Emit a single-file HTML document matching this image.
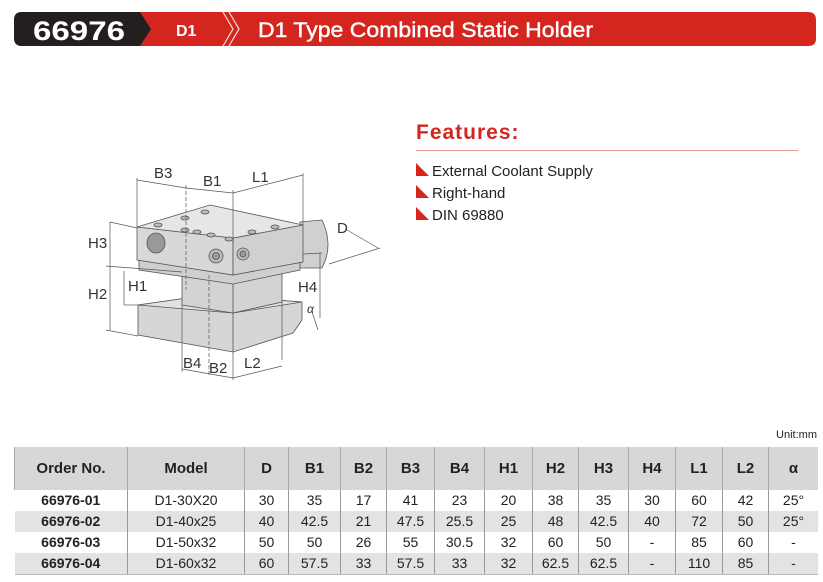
<!DOCTYPE html>
<html><head><meta charset="utf-8"><style>
body{margin:0;width:823px;height:582px;background:#fff;font-family:"Liberation Sans",Arial,sans-serif;position:relative;overflow:hidden}
.abs{position:absolute}
table{border-collapse:collapse;position:absolute;left:14px;top:447px;width:804px;font-size:14px;color:#222}
td{text-align:center;padding:0;height:21px;border-left:1px solid #999;line-height:21px}
td:first-child{border-left:none;font-weight:bold}
tr.h td{height:43px;background:#d7d7d7;font-weight:bold;font-size:15px;border-left:1px solid #aaa}
tr.g td{background:#e3e3e3}
tr.last td{border-bottom:1px solid #bbb}
.tri{display:inline-block;width:0;height:0;border-right:13px solid transparent;border-bottom:13px solid #d4261f;margin-right:3px}
</style></head><body>
<svg class="abs" style="left:0;top:0" width="823" height="60">
<path d="M22,12 H808 Q816,12 816,20 V39 Q816,46 808,46 H22 Q14,46 14,38 V20 Q14,12 22,12Z" fill="#d4261f"/>
<path d="M22,12 H140 L151,29 L140,46 H22 Q14,46 14,38 V20 Q14,12 22,12Z" fill="#231f1e"/>
<path d="M223,12 L233,29 L223,46 M229,12 L239,29 L229,46" stroke="#fff" stroke-width="1.2" fill="none" opacity=".85"/>
<text x="33" y="40" font-size="27" font-weight="bold" fill="#fff" textLength="92" lengthAdjust="spacingAndGlyphs">66976</text>
<text x="176" y="36" font-size="16" font-weight="bold" fill="#fff">D1</text>
<text x="258" y="37" font-size="21" fill="#fff" stroke="#fff" stroke-width="0.4" textLength="335" lengthAdjust="spacingAndGlyphs">D1 Type Combined Static Holder</text>
</svg>
<div class="abs" style="left:416px;top:121px;color:#d4261f;font-size:21px;font-weight:bold;letter-spacing:1px">Features:</div>
<div class="abs" style="left:416px;top:150px;width:382px;height:1px;background:#e59a96"></div>
<div class="abs" style="left:416px;top:161px;font-size:15px;color:#222;line-height:22px">
<div><span class="tri"></span>External Coolant Supply</div>
<div><span class="tri"></span>Right-hand</div>
<div><span class="tri"></span>DIN 69880</div>
</div>
<svg class="abs" style="left:0;top:0" width="420" height="400" font-family="Liberation Sans" font-size="15" fill="#333">
<g stroke="#555" stroke-width="0.8">
<path d="M300,222 L322,220 Q334,245 322,268 L300,268Z" fill="#d0d0d0"/>
<polygon points="138,305 208,295 302,302 302,320 293,333 233,352 138,335" fill="#d6d6d6"/>
<polygon points="138,305 208,295 302,302 233,313" fill="#e2e2e2"/>
<line x1="233" y1="313" x2="233" y2="352"/>
<polygon points="182,275 282,268 282,302 233,313 182,305" fill="#d3d3d3"/>
<line x1="233" y1="282" x2="233" y2="313"/>
<polygon points="139,260 233,275 300,262 300,270 233,284 139,270" fill="#cfcfcf"/>
<polygon points="137,227 233,238 233,275 137,260" fill="#d8d8d8"/>
<polygon points="233,238 303,225 303,262 233,275" fill="#d0d0d0"/>
<polygon points="137,227 210,205 303,225 233,238" fill="#e6e6e6"/>
<ellipse cx="156" cy="243" rx="9" ry="10" fill="#999"/>
<circle cx="216" cy="256" r="7" fill="#bbb"/><circle cx="216" cy="256" r="3.5" fill="#999"/>
<circle cx="243" cy="254" r="6" fill="#bbb"/><circle cx="243" cy="254" r="3" fill="#999"/>
<g fill="#bbb"><ellipse cx="205" cy="212" rx="4" ry="2"/><ellipse cx="185" cy="218" rx="4" ry="2"/><ellipse cx="158" cy="225" rx="4" ry="2"/><ellipse cx="185" cy="230" rx="4" ry="2"/><ellipse cx="197" cy="232" rx="4" ry="2"/><ellipse cx="211" cy="235" rx="4" ry="2"/><ellipse cx="229" cy="239" rx="4" ry="2"/><ellipse cx="252" cy="232" rx="4" ry="2"/><ellipse cx="275" cy="227" rx="4" ry="2"/></g>
</g>
<g stroke="#555" stroke-width="0.7" fill="none">
<line x1="137" y1="227" x2="137" y2="178"/><line x1="233" y1="238" x2="233" y2="190"/><line x1="303" y1="225" x2="303" y2="173"/>
<line x1="186" y1="185" x2="186" y2="290" stroke-dasharray="4,2"/>
<line x1="137" y1="180" x2="186" y2="188"/><line x1="186" y1="188" x2="233" y2="193"/><line x1="233" y1="193" x2="303" y2="175"/>
<line x1="110" y1="222" x2="137" y2="228"/><line x1="110" y1="222" x2="110" y2="330"/><line x1="106" y1="266" x2="182" y2="272"/><line x1="106" y1="330" x2="138" y2="336"/>
<line x1="124" y1="271" x2="124" y2="305"/><line x1="124" y1="305" x2="138" y2="305"/>
<line x1="182" y1="305" x2="182" y2="372"/><line x1="209" y1="275" x2="209" y2="377" stroke-dasharray="4,2"/><line x1="233" y1="352" x2="233" y2="380"/><line x1="282" y1="302" x2="282" y2="360"/>
<line x1="182" y1="369" x2="233" y2="378"/><line x1="233" y1="378" x2="282" y2="366"/>
<line x1="320" y1="253" x2="320" y2="318"/><line x1="303" y1="254" x2="322" y2="253"/>
<line x1="329" y1="264" x2="380" y2="248"/><line x1="347" y1="230" x2="378" y2="248"/>
<line x1="312" y1="312" x2="318" y2="330"/>
</g>
<text x="154" y="178">B3</text><text x="203" y="186">B1</text><text x="252" y="182">L1</text><text x="337" y="233">D</text>
<text x="88" y="248">H3</text><text x="88" y="299">H2</text><text x="128" y="291">H1</text><text x="298" y="292">H4</text>
<text x="307" y="313" font-size="12" font-style="italic">α</text>
<text x="183" y="368">B4</text><text x="209" y="373">B2</text><text x="244" y="368">L2</text>
</svg>
<div class="abs" style="right:6px;top:429px;font-size:11px;color:#222">Unit:mm</div>
<table>
<colgroup><col style="width:113px"><col style="width:117px"><col style="width:44px"><col style="width:52px"><col style="width:46px"><col style="width:48px"><col style="width:50px"><col style="width:48px"><col style="width:46px"><col style="width:50px"><col style="width:47px"><col style="width:47px"><col style="width:46px"><col></colgroup>
<tr class="h"><td>Order No.</td><td>Model</td><td>D</td><td>B1</td><td>B2</td><td>B3</td><td>B4</td><td>H1</td><td>H2</td><td>H3</td><td>H4</td><td>L1</td><td>L2</td><td>α</td></tr>
<tr><td>66976-01</td><td>D1-30X20</td><td>30</td><td>35</td><td>17</td><td>41</td><td>23</td><td>20</td><td>38</td><td>35</td><td>30</td><td>60</td><td>42</td><td>25°</td></tr>
<tr class="g"><td>66976-02</td><td>D1-40x25</td><td>40</td><td>42.5</td><td>21</td><td>47.5</td><td>25.5</td><td>25</td><td>48</td><td>42.5</td><td>40</td><td>72</td><td>50</td><td>25°</td></tr>
<tr><td>66976-03</td><td>D1-50x32</td><td>50</td><td>50</td><td>26</td><td>55</td><td>30.5</td><td>32</td><td>60</td><td>50</td><td>-</td><td>85</td><td>60</td><td>-</td></tr>
<tr class="g last"><td>66976-04</td><td>D1-60x32</td><td>60</td><td>57.5</td><td>33</td><td>57.5</td><td>33</td><td>32</td><td>62.5</td><td>62.5</td><td>-</td><td>110</td><td>85</td><td>-</td></tr>
</table>
</body></html>
